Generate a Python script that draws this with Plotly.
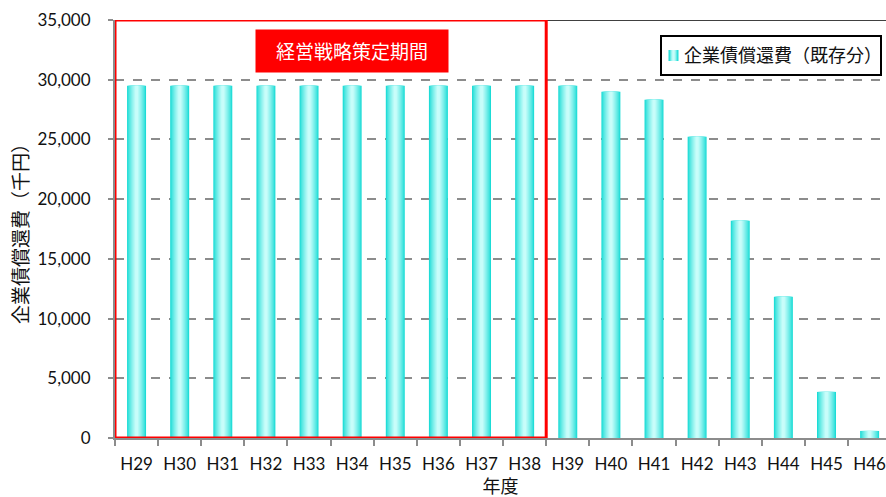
import plotly.graph_objects as go

categories = ["H29", "H30", "H31", "H32", "H33", "H34", "H35", "H36", "H37", "H38",
              "H39", "H40", "H41", "H42", "H43", "H44", "H45", "H46"]
values = [29500, 29500, 29500, 29500, 29500, 29500, 29500, 29500, 29500, 29500,
          29500, 29000, 28330, 25230, 18190, 11820, 3860, 590]
series_name = "企業債償還費（既存分）"
period_label = "経営戦略策定期間"
y_title = "企業債償還費（千円）"
x_title = "年度"
y_ticks = [0, 5000, 10000, 15000, 20000, 25000, 30000, 35000]

FONT = "Lato, 'Noto Sans CJK JP', sans-serif"

edge = (28, 220, 214)
center = (200, 253, 250)
n_layers = 9
full_w = 0.44


def layer_color(i, n):
    t = i / (n - 1)
    col = tuple(round(edge[k] + (center[k] - edge[k]) * t ** 0.8) for k in range(3))
    return "rgb(%d,%d,%d)" % col


fig = go.Figure()
for i in range(n_layers):
    w = full_w * (1 - 0.85 * i / (n_layers - 1))
    fig.add_trace(go.Bar(
        x=categories, y=values, width=w,
        marker=dict(color=layer_color(i, n_layers), line=dict(width=0)),
        name=series_name, showlegend=False, hoverinfo="skip" if i else None,
    ))

# plot area in pixels: x 115..886, y 20..438
PL, PR, PT, PB = 115, 886, 20, 438


def px(x):
    return (x - PL) / (PR - PL)


def py(y):
    return (PB - y) / (PB - PT)


fig.update_layout(
    width=886, height=497,
    margin=dict(l=PL, r=0, t=PT, b=497 - PB),
    barmode="overlay",
    showlegend=False,
    plot_bgcolor="white", paper_bgcolor="white",
    font=dict(family=FONT, size=17, color="#111111"),
    xaxis=dict(type="category", range=[-0.5, 17.38],
               showline=True, linecolor="#8c8c8c", linewidth=2,
               ticks="outside", tickson="boundaries", ticklen=6, tickcolor="#8c8c8c", tickwidth=2,
               tickfont=dict(size=17), ticklabelstandoff=10,
               title=dict(text=x_title, font=dict(size=18), standoff=8)),
    yaxis=dict(range=[0, 35000], tickvals=y_ticks, tickformat=",",
               showline=True, linecolor="#8c8c8c", linewidth=2,
               ticks="outside", ticklen=5, tickcolor="#8c8c8c", tickwidth=2,
               showgrid=True, gridcolor="#8c8c8c", gridwidth=2, griddash="dash",
               zeroline=False, tickfont=dict(size=17), ticklabelstandoff=14,
               title=dict(text=y_title, font=dict(size=19), standoff=4)),
)

fig.add_shape(type="line", xref="paper", yref="y", x0=0, x1=1, y0=35000, y1=35000,
              line=dict(color="black", width=1.5), layer="above")
fig.add_shape(type="rect", xref="x", yref="y", x0=-0.5, x1=9.5, y0=0, y1=35000,
              line=dict(color="#ff0000", width=3), layer="above")
fig.add_annotation(x=5.0, y=32410, xref="x", yref="y", text=period_label, showarrow=False,
                   bgcolor="#ff0000", width=192, height=42, borderpad=0,
                   font=dict(color="white", size=19))

# legend box drawn manually
fig.add_shape(type="rect", xref="paper", yref="paper", x0=px(661), x1=px(881), y0=py(75), y1=py(36),
              fillcolor="white", line=dict(color="black", width=2), layer="above")
n_sw = 4
for i in range(n_sw):
    half = 5 * (1 - 0.75 * i / (n_sw - 1))
    fig.add_shape(type="rect", xref="paper", yref="paper",
                  x0=px(673.5 - half), x1=px(673.5 + half), y0=py(61), y1=py(50),
                  fillcolor=layer_color(i * 2, 7), line=dict(width=0), layer="above")
fig.add_annotation(x=px(682), y=py(55.5), xref="paper", yref="paper", text=series_name,
                   showarrow=False, xanchor="left", yanchor="middle", font=dict(size=18))

fig.write_html("out.html")
